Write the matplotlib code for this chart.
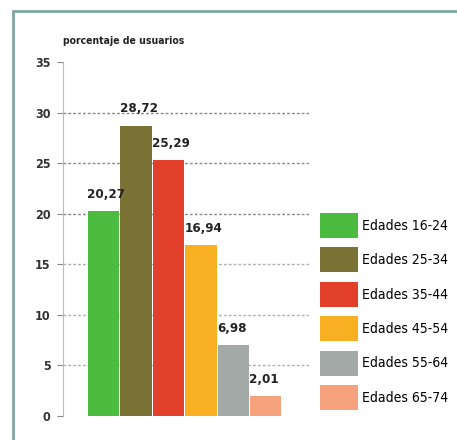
import matplotlib.pyplot as plt
from matplotlib.patches import Rectangle

# porcentaje de usuarios por tramo de edad
grupos = ['Edades 16-24', 'Edades 25-34', 'Edades 35-44',
          'Edades 45-54', 'Edades 55-64', 'Edades 65-74']
valores = [20.27, 28.72, 25.29, 16.94, 6.98, 2.01]
etiquetas = ['20,27', '28,72', '25,29', '16,94', '6,98', '2,01']
colores = ['#4cbc40', '#7a7234', '#e2402b', '#f8b022', '#a3a9a7', '#f6a27c']

plt.rcParams['font.family'] = ['DejaVu Sans']
plt.rcParams['font.stretch'] = 'condensed'

fig = plt.figure(figsize=(4.57, 4.40), dpi=100)
fig.patch.set_facecolor('white')
ax = fig.add_axes([0.138, 0.0545, 0.538, 0.8045])

x = list(range(len(valores)))
barras = ax.bar(x, valores, width=0.97, color=colores, label=grupos, zorder=2)

for xi, v, txt in zip(x, valores, etiquetas):
    ax.text(xi - 0.5, v + 1.0, txt, ha='left', va='bottom', fontsize=9.5,
            fontweight='bold', fontstretch='condensed', color='#222222',
            zorder=3)

ax.set_ylim(0, 35)
ax.set_xlim(-1.24, 6.33)
ax.set_yticks(range(0, 36, 5))
ax.set_xticks([])
ax.tick_params(axis='y', length=4, color='#888888', labelsize=9,
               labelcolor='#333333', pad=5)
for lab in ax.get_yticklabels():
    lab.set_fontweight('bold')

for s in ['top', 'right', 'bottom']:
    ax.spines[s].set_visible(False)
ax.spines['left'].set_color('#bbbbbb')

for t in range(5, 35, 5):
    ax.axhline(t, color='#8a8a8a' if t >= 20 else '#b0b0b0',
               linestyle=(0, (2, 1.5)), linewidth=1, zorder=1)

ax.text(0.0, 1.045, 'porcentaje de usuarios', transform=ax.transAxes,
        ha='left', va='bottom', fontsize=7.5, fontweight='bold',
        fontstretch='condensed', color='#222222')

fig.legend(handles=barras, labels=grupos, loc='upper left',
           bbox_to_anchor=(0.700, 0.516), frameon=False,
           prop={'size': 10, 'stretch': 'condensed'},
           handlelength=2.73, handleheight=2.39, handletextpad=0.29,
           labelspacing=0.68, borderpad=0, borderaxespad=0)

# marco exterior
fig.add_artist(Rectangle((13 / 457, -0.1), 1.2, 1.1 - 11 / 440,
                         transform=fig.transFigure, fill=False,
                         edgecolor='#7fa8a2', linewidth=2))

fig.savefig('out.png', dpi=100)
